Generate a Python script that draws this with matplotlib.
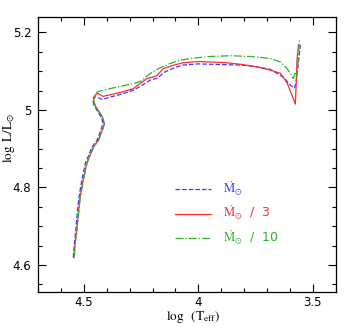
import matplotlib
matplotlib.use("Agg")
import matplotlib.pyplot as plt
from matplotlib.ticker import MultipleLocator

plt.rcParams['mathtext.fontset'] = 'stix'

# HR tracks for three mass-loss rates: (log Teff, log L/Lsun)
logT_red = [4.544, 4.538, 4.532, 4.525, 4.517, 4.503, 4.488, 4.459, 4.437, 4.420, 4.411,
            4.418, 4.430, 4.452, 4.459, 4.452, 4.440, 4.417, 4.380, 4.330, 4.285, 4.255,
            4.225, 4.200, 4.182, 4.153, 4.100, 4.065, 4.000, 3.948, 3.880, 3.817, 3.750,
            3.686, 3.642, 3.612, 3.592, 3.576, 3.572, 3.569, 3.562]
logL_red = [4.619, 4.660, 4.689, 4.730, 4.775, 4.820, 4.862, 4.904, 4.922, 4.948, 4.965,
            4.980, 4.991, 5.012, 5.025, 5.038, 5.043, 5.035, 5.040, 5.047, 5.055, 5.068,
            5.081, 5.085, 5.088, 5.107, 5.117, 5.122, 5.125, 5.124, 5.122, 5.118, 5.112,
            5.103, 5.095, 5.070, 5.040, 5.015, 5.070, 5.129, 5.168]

logT_blue = [4.547, 4.541, 4.536, 4.530, 4.522, 4.509, 4.494, 4.465, 4.443, 4.426, 4.417,
             4.423, 4.435, 4.456, 4.462, 4.455, 4.440, 4.420, 4.380, 4.330, 4.285, 4.250,
             4.211, 4.180, 4.150, 4.100, 4.065, 4.000, 3.948, 3.880, 3.817, 3.750, 3.686,
             3.627, 3.598, 3.580, 3.572, 3.563, 3.554]
logL_blue = [4.619, 4.660, 4.689, 4.730, 4.775, 4.820, 4.862, 4.904, 4.922, 4.948, 4.965,
             4.980, 4.991, 5.012, 5.025, 5.034, 5.032, 5.027, 5.034, 5.042, 5.051, 5.062,
             5.077, 5.082, 5.097, 5.110, 5.116, 5.119, 5.118, 5.117, 5.116, 5.112, 5.105,
             5.084, 5.064, 5.056, 5.075, 5.120, 5.168]

logT_green = [4.543, 4.537, 4.531, 4.524, 4.516, 4.502, 4.487, 4.458, 4.436, 4.419, 4.410,
              4.417, 4.429, 4.451, 4.458, 4.451, 4.440, 4.400, 4.350, 4.300, 4.255, 4.230,
              4.211, 4.170, 4.123, 4.080, 4.036, 3.950, 3.861, 3.770, 3.686, 3.642, 3.612,
              3.595, 3.585, 3.576, 3.570, 3.565, 3.557]
logL_green = [4.619, 4.660, 4.689, 4.730, 4.775, 4.820, 4.862, 4.904, 4.922, 4.948, 4.965,
              4.980, 4.991, 5.012, 5.025, 5.040, 5.047, 5.053, 5.060, 5.066, 5.073, 5.085,
              5.094, 5.108, 5.120, 5.128, 5.133, 5.138, 5.140, 5.138, 5.133, 5.124, 5.107,
              5.092, 5.081, 5.098, 5.085, 5.120, 5.185]

labels = [r'$\dot{\rm M}_{\odot}$', r'$\dot{\rm M}_{\odot}$  /  3', r'$\dot{\rm M}_{\odot}$  /  10']

fig = plt.figure(figsize=(3.54, 3.27), dpi=100)
ax = fig.add_axes([0.108, 0.107, 0.840, 0.841])

ax.plot(logT_blue, logL_blue, '--', color='#3a3aff', lw=0.9, label=labels[0])
ax.plot(logT_red, logL_red, '-', color='#ff2a2a', lw=0.9, label=labels[1])
ax.plot(logT_green, logL_green, '-.', color='#30b030', lw=0.9, label=labels[2])

ax.set_xlim(4.7, 3.4)
ax.set_ylim(4.53, 5.24)
ax.xaxis.set_major_locator(MultipleLocator(0.5))
ax.xaxis.set_minor_locator(MultipleLocator(0.1))
ax.yaxis.set_major_locator(MultipleLocator(0.2))
ax.yaxis.set_minor_locator(MultipleLocator(0.05))
ax.xaxis.set_major_formatter(plt.FuncFormatter(lambda v, p: f'{v:g}'))
ax.yaxis.set_major_formatter(plt.FuncFormatter(lambda v, p: f'{v:g}'))
ax.tick_params(which='both', direction='in', top=True, right=True, labelsize=8.5, width=0.8)
ax.tick_params(which='major', length=6)
ax.tick_params(which='minor', length=3)
ax.tick_params(axis='y', pad=5)
ax.tick_params(axis='x', pad=3)
for s in ax.spines.values():
    s.set_linewidth(0.9)

ax.set_xlabel(r'$\log\ \ (\mathrm{T}_{\mathrm{eff}})$', fontsize=9.5)
ax.xaxis.set_label_coords(0.52, -0.06)
ax.xaxis.label.set_va('top')
ax.set_ylabel(r'$\log\ \mathrm{L}/\mathrm{L}_{\odot}$', fontsize=9.5)
ax.yaxis.set_label_coords(-0.072, 0.56)

leg = ax.legend(loc='upper left', bbox_to_anchor=(0.46, 0.41), frameon=False, fontsize=9,
                handlelength=2.9, handletextpad=0.9, labelspacing=0.5,
                borderpad=0, borderaxespad=0, labelcolor='linecolor')

fig.savefig('out.png', dpi=100)
